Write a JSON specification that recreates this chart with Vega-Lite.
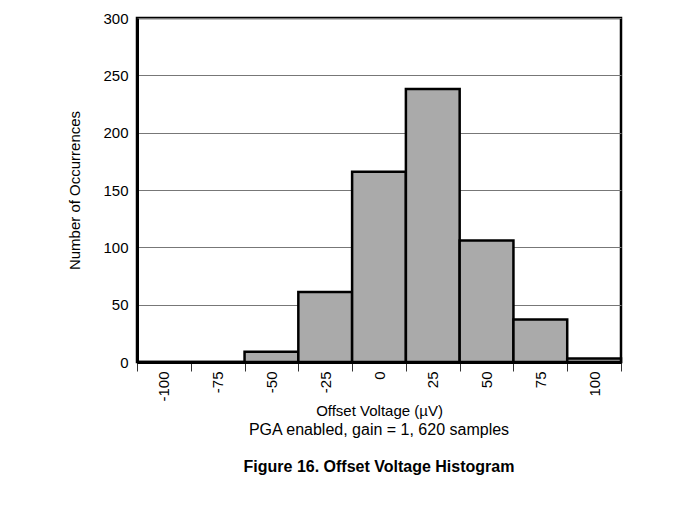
{
  "$schema": "https://vega.github.io/schema/vega-lite/v6.json",
  "width": 484,
  "height": 344,
  "autosize": {"type": "none"},
  "padding": {"left": 137, "top": 18, "right": 52, "bottom": 146},
  "background": "white",
  "data": {"values": [
    {"v": "-100", "n": 0},
    {"v": "-75", "n": 0},
    {"v": "-50", "n": 9},
    {"v": "-25", "n": 61},
    {"v": "0", "n": 166},
    {"v": "25", "n": 238},
    {"v": "50", "n": 106},
    {"v": "75", "n": 37},
    {"v": "100", "n": 3}
  ]},
  "title": {
    "text": "PGA enabled, gain = 1, 620 samples",
    "subtitle": "Figure 16. Offset Voltage Histogram",
    "orient": "bottom",
    "anchor": "middle",
    "font": "Liberation Sans",
    "fontSize": 16,
    "fontWeight": "normal",
    "color": "black",
    "offset": 4,
    "subtitleFont": "Liberation Sans",
    "subtitleFontSize": 16,
    "subtitleFontWeight": "bold",
    "subtitleColor": "black",
    "subtitlePadding": 21
  },
  "config": {
    "view": {"stroke": "black", "strokeWidth": 2.5},
    "font": "Liberation Sans"
  },
  "mark": {"type": "bar", "fill": "#aaaaaa", "stroke": "black", "strokeWidth": 2.5},
  "encoding": {
    "x": {
      "field": "v",
      "type": "ordinal",
      "sort": null,
      "scale": {"paddingInner": 0, "paddingOuter": 0},
      "axis": {
        "title": "Offset Voltage (µV)",
        "titleFont": "Liberation Sans",
        "titleFontSize": 15,
        "titleFontWeight": "normal",
        "titleColor": "black",
        "titlePadding": 2,
        "labelAngle": -90,
        "labelFont": "Liberation Sans",
        "labelFontSize": 15,
        "labelColor": "black",
        "labelPadding": 0,
        "labelBaseline": "middle",
        "tickBand": "extent",
        "tickSize": 9,
        "tickColor": "#333333",
        "tickWidth": 1,
        "domain": true,
        "domainColor": "black",
        "domainWidth": 3,
        "grid": false
      }
    },
    "y": {
      "field": "n",
      "type": "quantitative",
      "scale": {"domain": [0, 300], "nice": false},
      "axis": {
        "title": "Number of Occurrences",
        "titleFont": "Liberation Sans",
        "titleFontSize": 15,
        "titleFontWeight": "normal",
        "titleColor": "black",
        "titlePadding": 20,
        "values": [0, 50, 100, 150, 200, 250, 300],
        "labelFont": "Liberation Sans",
        "labelFontSize": 15,
        "labelColor": "black",
        "labelPadding": 9,
        "ticks": false,
        "grid": true,
        "gridColor": "#777777",
        "gridWidth": 1,
        "domain": true,
        "domainColor": "black",
        "domainWidth": 3
      }
    }
  }
}
